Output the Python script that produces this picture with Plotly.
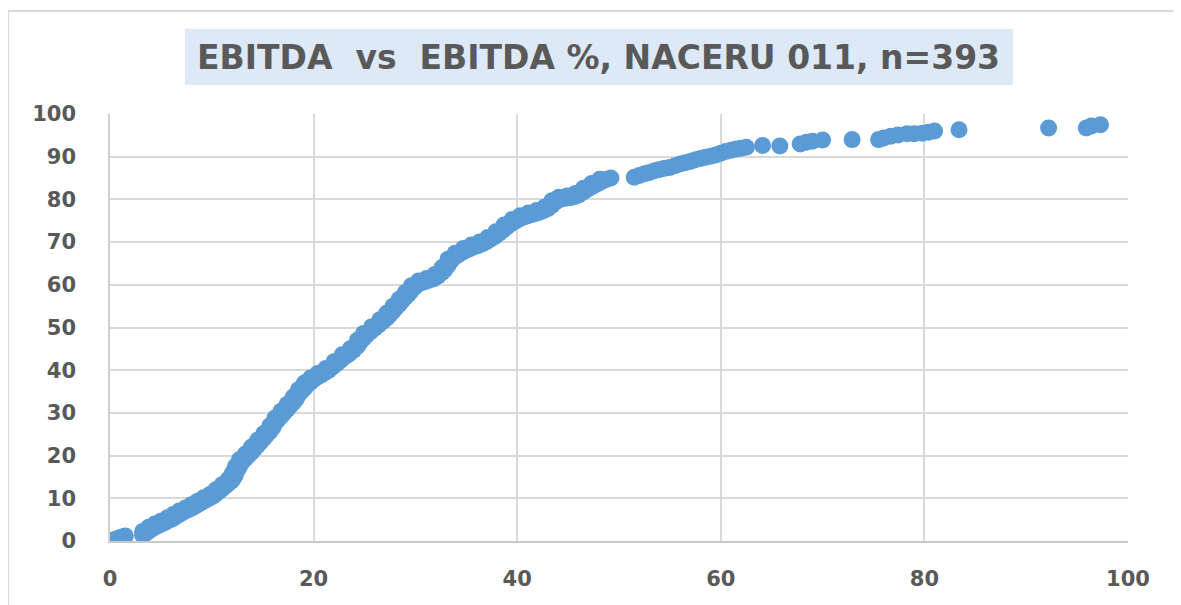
import plotly.graph_objects as go

# EBITDA % (x) vs cumulative EBITDA share (y)
ebitda_pct = [
    0.1, 0.4, 0.7, 1.0, 1.3, 1.5,
    3.2, 3.5, 3.8, 4.1, 4.4, 4.7, 5.0, 5.3, 5.6, 5.9, 6.2, 6.5, 6.8, 7.1,
    7.4, 7.7, 8.0, 8.3, 8.6, 8.9, 9.2, 9.5, 9.8, 10.1, 10.4, 10.7, 11.0, 11.3,
    11.6, 11.9, 12.1, 12.3, 12.4, 12.6, 12.8, 13.0, 13.3, 13.6, 13.9, 14.2,
    14.5, 14.8, 15.1, 15.4, 15.7, 16.0, 16.2, 16.5, 16.8, 17.1, 17.4, 17.7,
    18.0, 18.3, 18.5, 18.8, 19.1, 19.4, 19.7, 20.0, 20.3, 20.7, 21.1, 21.5,
    21.9, 22.3, 22.7, 23.1, 23.5, 23.9, 24.3, 24.6, 24.9, 25.2, 25.6, 26.0,
    26.4, 26.8, 27.2, 27.5, 27.8, 28.1, 28.4, 28.7, 29.0, 29.3, 29.6, 29.9,
    30.2, 30.6, 31.0, 31.4, 31.8, 32.2, 32.6, 32.9, 33.2, 33.5, 33.8, 34.2,
    34.6, 35.0, 35.4, 35.8, 36.2, 36.6, 37.0, 37.4, 37.8, 38.2, 38.6, 39.0,
    39.4, 39.8, 40.2, 40.6, 41.0, 41.4, 41.8, 42.2, 42.6, 43.0, 43.4, 43.7,
    44.0, 44.4, 44.8, 45.2, 45.6, 46.0, 46.4, 46.8, 47.2, 47.6, 48.0, 48.4,
    48.8, 49.2,
    51.5, 52.0, 52.5, 53.0, 53.5, 54.0, 54.5, 55.0, 55.5, 56.0, 56.5, 57.0,
    57.5, 58.0, 58.5, 59.0, 59.5, 60.0, 60.5, 61.0, 61.5, 62.0, 62.5, 64.1,
    65.8, 67.8, 68.4, 69.0, 70.0, 72.9, 75.5, 76.0, 76.7, 77.4, 78.3, 79.0,
    79.8, 80.4, 81.0, 83.4, 92.2, 95.9, 96.4, 97.3,
    # upper edge of the dense band
    3.2, 3.8, 4.4, 5.0, 5.6, 6.2, 6.8, 7.4, 8.0, 8.6, 9.2, 9.8, 10.4, 11.0,
    11.6, 12.0, 12.3, 12.7, 13.3, 13.9, 14.5, 15.1, 15.7, 16.2, 16.8, 17.4,
    18.0, 18.5, 19.1, 19.7, 20.4, 21.2, 22.0, 22.8, 23.6, 24.3, 24.9, 25.7,
    26.5, 27.2, 27.8, 28.4, 29.0, 29.6, 30.3, 31.1, 31.9, 32.6, 33.2, 33.9,
    34.7, 35.5, 36.3, 37.1, 37.9, 38.7, 39.5, 40.3, 41.1, 41.9, 42.7, 43.4,
    44.1, 44.9, 45.7, 46.5, 47.3, 48.1,
]
ebitda_cum = [
    0.1, 0.3, 0.5, 0.8, 1.0, 1.2,
    1.4, 1.8, 2.3, 2.8, 3.2, 3.6, 3.9, 4.2, 4.6, 5.0, 5.3, 5.8, 6.2, 6.6,
    7.0, 7.3, 7.7, 8.1, 8.5, 8.9, 9.3, 9.7, 10.1, 10.5, 11.0, 11.6, 12.2, 12.8,
    13.4, 14.0, 14.6, 15.4, 16.2, 17.0, 17.8, 18.6, 19.3, 20.0, 20.8, 21.6,
    22.4, 23.2, 24.0, 24.8, 25.6, 26.6, 27.6, 28.4, 29.2, 30.0, 30.8, 31.6,
    32.4, 33.3, 34.2, 35.0, 35.8, 36.6, 37.2, 37.8, 38.3, 38.8, 39.4, 40.0,
    40.8, 41.6, 42.4, 43.2, 43.8, 44.6, 45.6, 46.6, 47.4, 48.2, 49.0, 49.8,
    50.6, 51.4, 52.2, 53.0, 53.8, 54.6, 55.4, 56.2, 57.0, 57.8, 58.6, 59.4,
    60.0, 60.5, 60.8, 61.1, 61.4, 62.0, 62.8, 63.6, 64.6, 65.6, 66.4, 67.0,
    67.6, 68.1, 68.5, 68.9, 69.2, 69.6, 70.1, 70.7, 71.3, 72.0, 72.8, 73.6,
    74.3, 74.9, 75.4, 75.8, 76.1, 76.4, 76.7, 77.0, 77.4, 77.8, 78.6, 79.3,
    79.8, 80.1, 80.3, 80.4, 80.6, 81.0, 81.6, 82.2, 82.8, 83.3, 83.8, 84.3,
    84.7, 85.0,
    85.2, 85.6, 86.0, 86.3, 86.7, 87.0, 87.3, 87.5, 87.9, 88.3, 88.6, 88.9,
    89.3, 89.6, 89.9, 90.1, 90.4, 90.8, 91.2, 91.5, 91.8, 92.0, 92.2, 92.6,
    92.5, 93.0, 93.4, 93.6, 93.9, 94.0, 94.0, 94.4, 94.8, 95.1, 95.4, 95.4,
    95.5, 95.7, 96.0, 96.3, 96.7, 96.7, 97.2, 97.5,
    2.2, 3.2, 4.0, 4.6, 5.4, 6.2, 7.0, 7.7, 8.5, 9.3, 10.1, 10.9, 12.0, 13.2,
    14.4, 15.8, 17.4, 19.0, 20.4, 22.0, 23.6, 25.2, 27.0, 28.8, 30.4, 32.0,
    33.7, 35.4, 37.0, 38.2, 39.2, 40.4, 42.0, 43.6, 45.0, 47.0, 48.6, 50.2,
    51.8, 53.4, 55.0, 56.6, 58.2, 59.8, 60.9, 61.5, 62.4, 64.0, 66.0, 67.4,
    68.5, 69.3, 70.0, 71.1, 72.4, 74.0, 75.3, 76.2, 76.8, 77.4, 78.2, 79.7,
    80.5, 80.8, 81.4, 82.6, 83.7, 84.7,
]

tick_vals_x = [0, 20, 40, 60, 80, 100]
tick_vals_y = [0, 10, 20, 30, 40, 50, 60, 70, 80, 90, 100]
title_text = "EBITDA\u00a0\u00a0vs\u00a0\u00a0EBITDA %, NACERU 011, n=393"

tick_font = dict(family="DejaVu Sans", size=21, color="#595959", weight="bold")

fig = go.Figure()
fig.add_trace(go.Scatter(
    x=ebitda_pct, y=ebitda_cum,
    mode="markers",
    marker=dict(color="#5b9bd5", size=17, line=dict(width=0)),
    showlegend=False,
))

# the page body adds an 8px offset, so margins are shifted by 8px
fig.update_layout(
    width=1173, height=597,
    margin=dict(l=102, r=53, t=106, b=64),
    plot_bgcolor="white",
    paper_bgcolor="white",
    xaxis=dict(
        range=[0, 100], tickvals=tick_vals_x,
        showgrid=True, gridcolor="#d9d9d9", gridwidth=1.5,
        showline=True, linecolor="#c8c8c8", linewidth=2,
        zeroline=False, ticks="", tickfont=tick_font,
        ticklabelstandoff=18,
    ),
    yaxis=dict(
        range=[0, 100], tickvals=tick_vals_y,
        showgrid=True, gridcolor="#d9d9d9", gridwidth=1.5,
        showline=True, linecolor="#d0d0d0", linewidth=1.5,
        zeroline=False, ticks="", tickfont=tick_font,
        ticklabelstandoff=28,
    ),
    shapes=[
        # outer chart border: top and left edges
        dict(type="line", xref="paper", yref="paper",
             x0=-0.1002, x1=1.1, y0=1.241, y1=1.241,
             line=dict(color="#d9d9d9", width=2)),
        dict(type="line", xref="paper", yref="paper",
             x0=-0.1002, x1=-0.1002, y0=-0.2, y1=1.241,
             line=dict(color="#d9d9d9", width=2)),
        # title background box
        dict(type="rect", xref="paper", yref="paper",
             x0=0.0737, x1=0.887, y0=1.068, y1=1.199,
             fillcolor="#dde9f6", line=dict(width=0), layer="below"),
    ],
    annotations=[
        dict(text=title_text, xref="paper", yref="paper",
             x=0.480, y=1.133, xanchor="center", yanchor="middle",
             showarrow=False,
             font=dict(family="DejaVu Sans", size=33, color="#595959", weight="bold")),
    ],
)

fig.write_html("out.html", config={"displayModeBar": False})
